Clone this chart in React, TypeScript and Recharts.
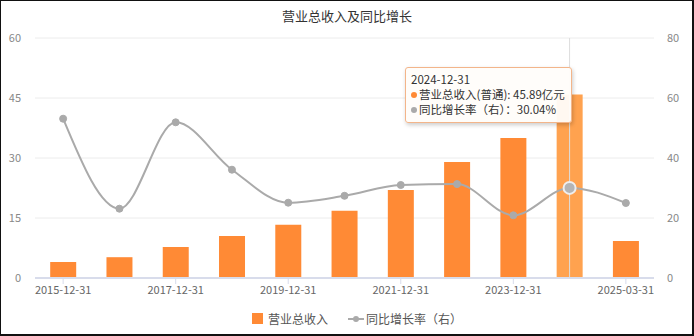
import {
  ComposedChart,
  Bar,
  Line,
  XAxis,
  YAxis,
  CartesianGrid,
  Tooltip,
  Cell,
} from "recharts";

const periods = [
  "2015-12-31",
  "2016-12-31",
  "2017-12-31",
  "2018-12-31",
  "2019-12-31",
  "2020-12-31",
  "2021-12-31",
  "2022-12-31",
  "2023-12-31",
  "2024-12-31",
  "2025-03-31",
];
const revenue = [4.0, 5.2, 7.75, 10.5, 13.3, 16.8, 22.0, 29.0, 35.0, 45.89, 9.25];
const yoyGrowth = [53.1, 23.1, 51.9, 36.1, 25.1, 27.4, 31.0, 31.3, 20.9, 30.04, 25.0];
const leftTicks = [0, 15, 30, 45, 60];
const rightTicks = [0, 20, 40, 60, 80];

const data = periods.map((p, i) => ({ date: p, revenue: revenue[i], yoy: yoyGrowth[i] }));

const ACTIVE = 9;
const FONT = "'Noto Sans CJK SC', 'Noto Sans', sans-serif";
const ORANGE = "#ff8a35";
const ORANGE_HI = "#ffa24f";
const GRAY = "#aaaaaa";

function Dot({ color }: { color: string }) {
  return (
    <span
      style={{
        display: "inline-block",
        width: 6,
        height: 6,
        borderRadius: 3,
        background: color,
        marginRight: 2,
        verticalAlign: "middle",
        position: "relative",
        top: -1,
      }}
    />
  );
}

function TipBox({ active, payload, label }: any) {
  if (!active || !payload || !payload.length) return null;
  const rev = payload.find((p: any) => p.dataKey === "revenue");
  const yoy = payload.find((p: any) => p.dataKey === "yoy");
  return (
    <div
      style={{
        boxSizing: "border-box",
        padding: "4px 6px 5px 5px",
        background: "rgba(255,253,250,0.95)",
        border: "1px solid #f3b58a",
        borderRadius: 3,
        boxShadow: "1px 2px 4px rgba(0,0,0,0.2)",
        fontFamily: FONT,
        fontSize: 11.5,
        lineHeight: "15px",
        color: "#333",
        whiteSpace: "nowrap",
      }}
    >
      <div>{label}</div>
      <div>
        <Dot color={ORANGE} />营业总收入(普通): {rev?.value}亿元
      </div>
      <div>
        <Dot color={GRAY} />同比增长率（右）：{yoy?.value.toFixed(2)}%
      </div>
    </div>
  );
}

export default function App() {
  return (
    <div
      style={{
        position: "fixed",
        left: 0,
        top: 0,
        width: 694,
        height: 336,
        background: "#fff",
        fontFamily: FONT,
      }}
    >
      <div
        style={{
          position: "absolute",
          top: 6,
          left: 0,
          width: 694,
          textAlign: "center",
          fontSize: 13,
          color: "#333",
        }}
      >
        营业总收入及同比增长
      </div>
      <ComposedChart
        width={694}
        height={336}
        data={data}
        margin={{ top: 38, right: 0, bottom: 28, left: 0 }}
        barCategoryGap="27%"
      >
        <CartesianGrid vertical={false} stroke="#ececec" yAxisId="left" />
        <XAxis
          dataKey="date"
          interval={1}
          axisLine={{ stroke: "#d8dceb", strokeWidth: 2 }}
          tickLine={{ stroke: "#d8dceb" }}
          tick={{ fill: "#666", fontSize: 11, fontFamily: FONT }}
          height={30}
        />
        <YAxis
          yAxisId="left"
          width={35}
          domain={[0, 60]}
          ticks={leftTicks}
          axisLine={false}
          tickLine={false}
          tickMargin={8}
          tick={{ fill: "#888", fontSize: 11, fontFamily: FONT }}
        />
        <YAxis
          yAxisId="right"
          orientation="right"
          width={40}
          domain={[0, 80]}
          ticks={rightTicks}
          axisLine={false}
          tickLine={false}
          tickMargin={7}
          tick={{ fill: "#888", fontSize: 11, fontFamily: FONT, textAnchor: "start" }}
        />
        <Tooltip
          active
          defaultIndex={ACTIVE}
          position={{ x: 405, y: 67 }}
          cursor={{ stroke: "#ddd", strokeWidth: 1 }}
          content={<TipBox />}
          isAnimationActive={false}
          wrapperStyle={{ outline: "none" }}
        />
        <Bar yAxisId="left" dataKey="revenue" fill={ORANGE} isAnimationActive={false} activeBar={false}>
          {data.map((_, i) => (
            <Cell key={i} fill={i === ACTIVE ? ORANGE_HI : ORANGE} />
          ))}
        </Bar>
        <Line
          yAxisId="right"
          type="monotone"
          dataKey="yoy"
          stroke={GRAY}
          strokeWidth={2}
          dot={{ r: 3.5, fill: GRAY, stroke: GRAY, strokeWidth: 1 }}
          activeDot={{ r: 6, fill: "#b4b4b4", stroke: "#eeeeee", strokeWidth: 2 }}
          isAnimationActive={false}
        />
      </ComposedChart>
      <div
        style={{
          position: "absolute",
          top: 310,
          left: 252,
          display: "flex",
          alignItems: "center",
          fontSize: 12,
          color: "#555",
          whiteSpace: "nowrap",
        }}
      >
        <span style={{ display: "inline-block", width: 11, height: 11, background: ORANGE, marginRight: 5 }} />
        <span style={{ marginRight: 20 }}>营业总收入</span>
        <svg width={16} height={10} style={{ marginRight: 2 }}>
          <line x1={0} y1={5} x2={16} y2={5} stroke={GRAY} strokeWidth={2} />
          <circle cx={8} cy={5} r={3} fill={GRAY} />
        </svg>
        <span>同比增长率（右）</span>
      </div>
      <div
        style={{
          position: "absolute",
          left: 0,
          top: 0,
          width: 694,
          height: 336,
          boxSizing: "border-box",
          borderStyle: "solid",
          borderColor: "#111",
          borderWidth: "1px 2px 2px 1px",
          pointerEvents: "none",
        }}
      />
    </div>
  );
}
